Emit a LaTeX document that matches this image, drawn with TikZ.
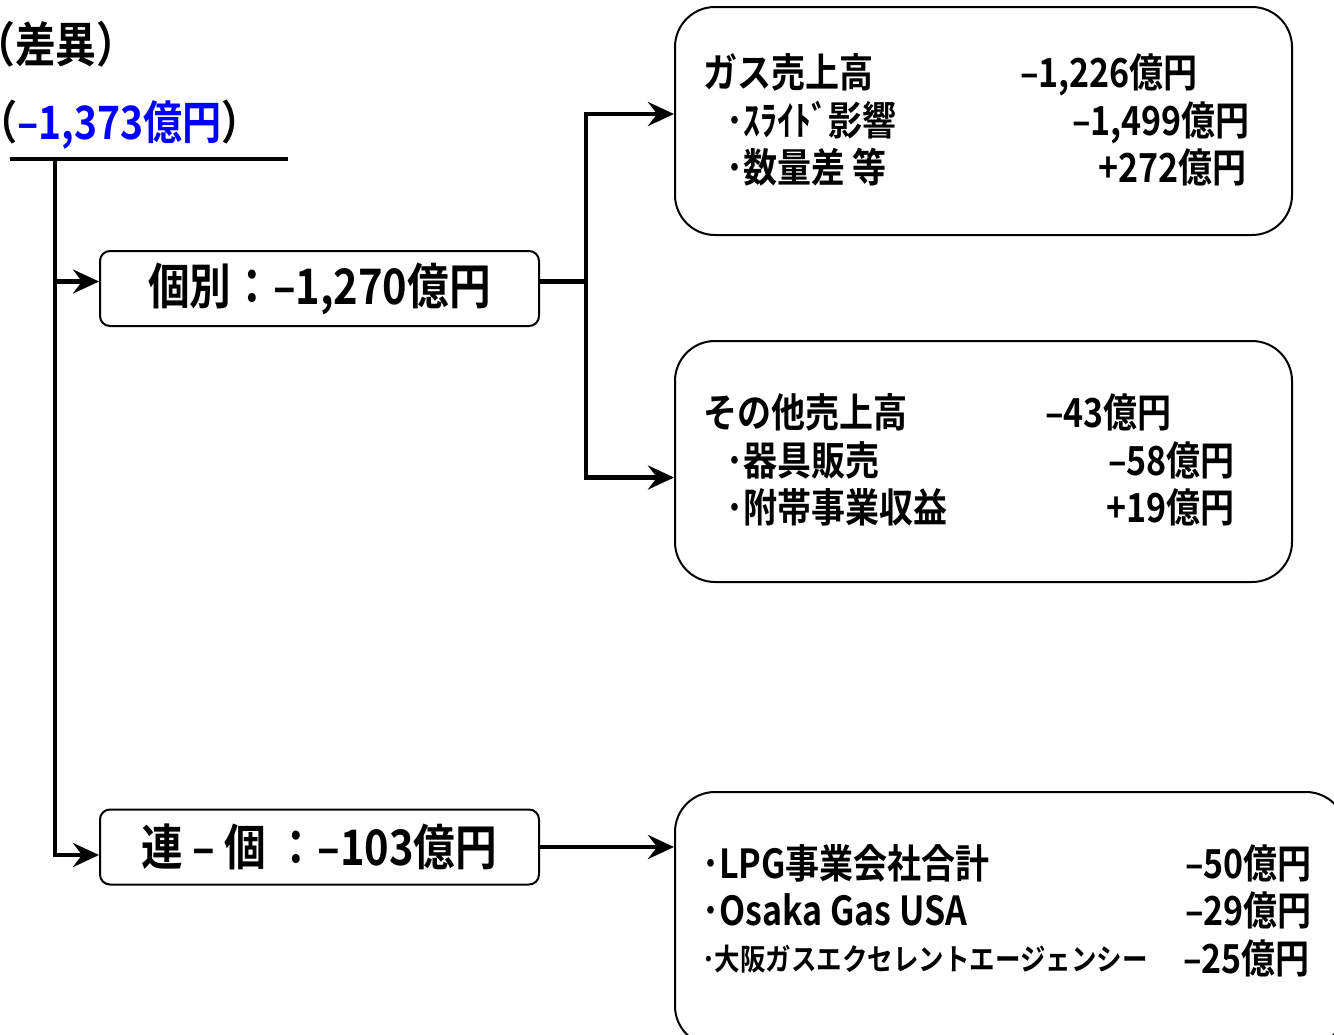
\documentclass[tikz,border=0pt]{standalone}
\usepackage{fontspec}
\setmainfont{Noto Sans CJK JP}[UprightFont=* Bold, FakeStretch=0.85]
\usetikzlibrary{arrows.meta,positioning}

\begin{document}
\begin{tikzpicture}[x=1pt,y=-1pt,
  box/.style={draw, line width=2pt, rounded corners=40pt},
  sumbox/.style={draw, line width=2pt, rounded corners=10pt, minimum width=439pt,
    minimum height=75pt, inner sep=0, font=\fontsize{49}{49}\selectfont},
  wire/.style={line width=4.5pt},
  arr/.style={wire, -{Stealth[length=26pt,width=24pt,inset=9pt]}},
  txt/.style={inner sep=0, font=\fontsize{40}{40}\selectfont, text height=34pt, text depth=6pt},
  smalltxt/.style={inner sep=0, font=\fontsize{30}{30}\selectfont, text height=26pt, text depth=4pt}]
\useasboundingbox (0,0) rectangle (1334,1034);

\node[inner sep=0, anchor=west, font=\fontsize{48}{48}\selectfont, text height=41pt, text depth=7pt]
  (title) at (-26,45) {（差異）};
\node[inner sep=0, anchor=west, font=\fontsize{46}{46}\selectfont, text height=39pt, text depth=7pt]
  (total) at (-22,123) {（\textcolor{blue}{–1,373億円}）};

\coordinate (barL) at (10,159);
\coordinate (barR) at (288,159);
\coordinate (root) at (55,159);
\draw[wire] (barL) -- (barR);

\node[sumbox] (kobetsu) at (319.5,288.5) {個別：–1,270億円};
\node[sumbox] (renko) at (319.5,847) {連 – 個 ：–103億円};

\node[box, minimum width=617pt, minimum height=228pt] (gas) at (983.5,121) {};
\node[box, minimum width=617pt, minimum height=241pt] (other) at (983.5,461.5) {};
\node[box, minimum width=671pt, minimum height=254pt] (group) at (1010.5,919) {};

% trunk
\draw[arr] (root) |- ([yshift=7pt]kobetsu.west);
\draw[arr] (root) |- ([yshift=-8pt]renko.west);

% fork to the sales boxes
\coordinate (fork) at ([xshift=46pt,yshift=7pt]kobetsu.east);
\draw[wire] ([yshift=7pt]kobetsu.east) -- (fork);
\draw[arr] (fork) |- ([yshift=7pt]gas.west);
\draw[arr] (fork) |- ([yshift=-16pt]other.west);

\draw[arr] (renko.east) -- (group.west |- renko.east);

% gas sales
\node[txt, anchor=west] (gas1) at (703,73) {ガス売上高};
\node[txt, anchor=east] (gas1v) at (1198,73) {–1,226億円};
\node[txt, anchor=west] (gas2) at (726,121) {･ｽﾗｲﾄﾞ影響};
\node[txt, anchor=east] (gas2v) at (1250,121) {–1,499億円};
\node[txt, anchor=west] (gas3) at (726,168) {･数量差 等};
\node[txt, anchor=east] (gas3v) at (1247,168) {+272億円};

% other sales
\node[txt, anchor=west] (oth1) at (703,413) {その他売上高};
\node[txt, anchor=east] (oth1v) at (1172,413) {–43億円};
\node[txt, anchor=west] (oth2) at (726,461) {･器具販売};
\node[txt, anchor=east] (oth2v) at (1235,461) {–58億円};
\node[txt, anchor=west] (oth3) at (726,508) {･附帯事業収益};
\node[txt, anchor=east] (oth3v) at (1235,508) {+19億円};

% group companies
\node[txt, anchor=west] (grp1) at (702,864) {･LPG事業会社合計};
\node[txt, anchor=east] (grp1v) at (1312,864) {–50億円};
\node[txt, anchor=west] (grp2) at (702,911) {･Osaka Gas USA};
\node[txt, anchor=east] (grp2v) at (1312,911) {–29億円};
\node[smalltxt, anchor=west] (grp3) at (702,959) {･大阪ガスエクセレントエージェンシー};
\node[txt, anchor=east] (grp3v) at (1310,959) {–25億円};

\end{tikzpicture}
\end{document}
